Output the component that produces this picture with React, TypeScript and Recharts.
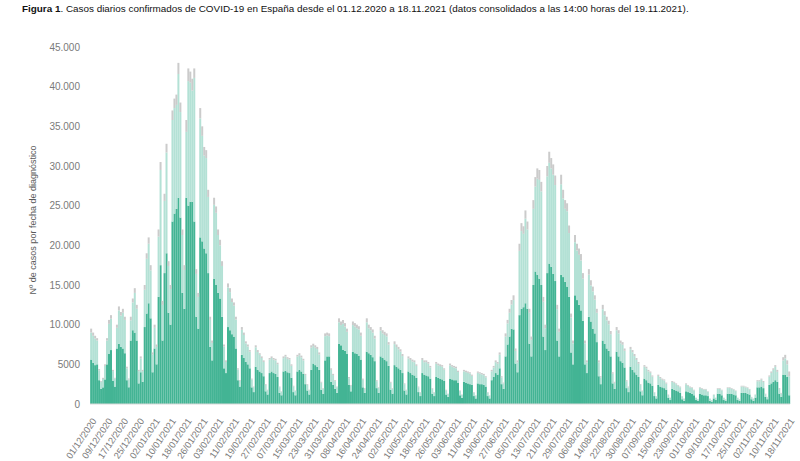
import React from 'react';
import { BarChart, Bar, XAxis, YAxis } from 'recharts';

// Daily totals (top of each stacked bar), 01/12/2020 .. 18/11/2021, weeks Tue..Mon
const totalCases: number[] = [
  9500, 9000, 8600, 8300, 4400, 2900, 3300,
  5000, 8300, 10600, 11200, 4300, 3300, 10000,
  12300, 11600, 12000, 11000, 4700, 3200, 11000,
  13300, 14600, 12500, 4300, 6000, 4300, 15000,
  19000, 21000, 17500, 6500, 10000, 7500, 22000,
  30500, 13000, 26500, 32800, 18000, 15000, 37000,
  38500, 39000, 43000, 38000, 22000, 17500, 35800,
  42300, 41900, 41000, 42300, 17000, 14000, 37300,
  35000, 32400, 32000, 27000, 11000, 8000, 26000,
  24900, 22000, 20700, 18000, 7500, 5500, 15200,
  14600, 13300, 12800, 11000, 4500, 3000, 9700,
  9000, 7900, 7500, 6800, 3200, 2200, 7400,
  6800, 6400, 6000, 5500, 2500, 1800, 5800,
  6000, 5800, 5700, 5200, 2200, 1600, 6000,
  6200, 5900, 5800, 5000, 2300, 1700, 6200,
  6400, 6100, 5700, 3800, 2500, 1800, 7400,
  7600, 7400, 7200, 6500, 2800, 2000, 8900,
  9000, 8900, 4500, 3800, 3000, 2200, 10800,
  10400, 10600, 10200, 9500, 3400, 2400, 10400,
  10200, 10000, 9800, 9000, 3200, 2000, 10800,
  10000, 9700, 9400, 8600, 3000, 2100, 9700,
  9300, 9100, 8900, 7800, 2800, 2000, 7900,
  7500, 7200, 6900, 6300, 2600, 1800, 6000,
  5800, 5600, 5500, 5000, 2200, 1500, 5800,
  5500, 5500, 5300, 4800, 2000, 1500, 5300,
  5100, 5000, 4900, 4500, 1800, 1300, 5100,
  4900, 4800, 4700, 4200, 1700, 1200, 4300,
  4200, 4100, 4000, 3700, 1500, 1100, 4100,
  4000, 3900, 3800, 3500, 1500, 1100, 4300,
  4800, 5500, 5300, 6500, 3500, 2700, 8900,
  10600, 12000, 13100, 13700, 7000, 5500, 20200,
  22800, 22400, 24400, 23000, 12000, 8500, 25700,
  28600, 29700, 29500, 28000, 13500, 10000, 30000,
  31800, 31000, 30200, 28800, 12500, 9500, 28900,
  27000, 25700, 25300, 22500, 11400, 8000, 21300,
  20200, 19600, 18900, 16500, 8000, 5500, 17000,
  15600, 14800, 13700, 12000, 5500, 3500, 12500,
  11700, 11000, 10500, 9200, 4000, 2800, 9700,
  9300, 8000, 7800, 7000, 3000, 2200, 7200,
  6800, 6300, 5800, 5300, 2500, 1700, 4900,
  4700, 4300, 4100, 3600, 1500, 1000, 3700,
  3400, 3200, 3100, 2700, 1200, 800, 2900,
  2800, 2600, 2400, 2200, 1000, 700, 2600,
  2400, 2200, 2100, 1800, 800, 600, 2100,
  2000, 1900, 1900, 1600, 700, 500, 1200,
  800, 2000, 2000, 1800, 800, 600, 2100,
  2100, 2000, 1900, 1700, 800, 600, 2300,
  2300, 2200, 2100, 1900, 900, 700, 1200,
  3000, 3000, 3200, 2900, 1300, 900, 3600,
  4100, 4500, 4900, 4300, 2000, 1400, 5900,
  6200, 5500, 4100,
];

// Dark green segment (bottom)
const darkCases: number[] = [
  5600, 5200, 4900, 5000, 3000, 1900, 2100,
  3100, 5000, 6300, 6800, 2900, 2200, 7000,
  7600, 7200, 7000, 6400, 3000, 2100, 8000,
  9300, 9000, 8000, 2600, 4000, 2800, 9700,
  11400, 12700, 10800, 4000, 7000, 5000, 13500,
  17500, 8000, 16500, 19000, 11500, 10000, 23000,
  24000, 24600, 26000, 23500, 14000, 12000, 26000,
  25000, 25500, 25500, 23000, 11000, 9500, 21000,
  20500, 19600, 19000, 16500, 7200, 5500, 15800,
  15000, 14000, 13300, 11000, 4500, 3900, 9700,
  9300, 8800, 8500, 7000, 3000, 2200, 6200,
  5800, 5300, 5000, 4500, 2100, 1500, 4700,
  4300, 4100, 3900, 3500, 1600, 1200, 3900,
  4100, 3900, 3800, 3400, 1400, 1100, 4100,
  4200, 4000, 3900, 3300, 1500, 1100, 4100,
  4300, 4100, 3800, 2500, 1700, 1200, 4300,
  5100, 4900, 4700, 4300, 1800, 1300, 5500,
  6000, 6000, 2800, 2400, 1900, 1400, 7600,
  7400, 6800, 6700, 6300, 2400, 1600, 6600,
  6400, 6300, 6100, 5600, 2100, 1400, 6600,
  6400, 6200, 5900, 5400, 2000, 1400, 6000,
  5800, 5600, 5400, 4800, 1800, 1300, 4900,
  4700, 4500, 4300, 3900, 1700, 1200, 4100,
  3900, 3700, 3600, 3300, 1500, 1000, 3900,
  3700, 3600, 3500, 3200, 1300, 1000, 3400,
  3300, 3200, 3100, 2900, 1200, 900, 3200,
  3100, 3000, 3000, 2700, 1100, 800, 2800,
  2700, 2600, 2500, 2400, 1000, 700, 2600,
  2500, 2500, 2400, 2200, 1000, 700, 3000,
  3400, 3900, 3700, 4500, 2500, 1900, 6000,
  7500, 8500, 9500, 9400, 5100, 4000, 11200,
  12000, 12200, 12700, 12000, 7600, 6000, 15000,
  16700, 16300, 15800, 15000, 8500, 6800, 16500,
  17700, 17300, 16400, 15500, 8000, 6000, 16300,
  16000, 15400, 14800, 13500, 6500, 5000, 13700,
  13100, 12500, 11800, 10500, 5000, 3900, 11000,
  10400, 9500, 8900, 7800, 3500, 2500, 8000,
  7600, 7000, 6700, 6000, 2600, 1900, 6600,
  6000, 5400, 5200, 4600, 2000, 1500, 4700,
  4300, 4000, 3700, 3400, 1600, 1100, 3200,
  3000, 2700, 2600, 2300, 1000, 700, 2400,
  2200, 2100, 2000, 1800, 800, 500, 1900,
  1800, 1700, 1600, 1400, 600, 400, 1600,
  1500, 1400, 1300, 1100, 500, 400, 1300,
  1200, 1100, 1100, 1000, 400, 300, 700,
  500, 1300, 1300, 1100, 500, 400, 1300,
  1300, 1300, 1200, 1100, 500, 400, 1400,
  1400, 1400, 1300, 1200, 600, 400, 800,
  2100, 2100, 2200, 2000, 900, 600, 2400,
  2600, 2800, 3000, 2800, 1300, 900, 3700,
  3700, 3400, 1100,
];

// Grey segment (top)
const greyCases: number[] = [
  500, 400, 350, 300, 150, 100, 150,
  200, 300, 500, 450, 150, 100, 400,
  500, 450, 500, 400, 200, 100, 450,
  500, 600, 500, 150, 250, 150, 600,
  700, 800, 650, 250, 400, 300, 900,
  1000, 500, 900, 1100, 600, 500, 1200,
  1200, 1300, 1400, 1200, 700, 600, 1500,
  1600, 1400, 1500, 1200, 600, 500, 1300,
  1200, 1100, 1000, 900, 400, 300, 900,
  800, 700, 700, 600, 250, 200, 500,
  500, 450, 400, 350, 150, 100, 350,
  300, 250, 250, 200, 100, 80, 250,
  250, 200, 200, 200, 100, 60, 200,
  200, 200, 200, 180, 80, 60, 220,
  220, 200, 200, 180, 80, 60, 220,
  250, 220, 200, 150, 100, 60, 300,
  300, 300, 280, 250, 100, 80, 350,
  350, 350, 200, 150, 120, 80, 500,
  450, 500, 450, 400, 150, 100, 450,
  450, 450, 400, 400, 150, 100, 500,
  450, 400, 400, 350, 120, 80, 450,
  400, 400, 380, 320, 120, 80, 350,
  320, 300, 300, 260, 100, 70, 250,
  250, 240, 230, 200, 90, 60, 250,
  230, 230, 220, 200, 80, 60, 230,
  220, 210, 200, 180, 70, 50, 220,
  200, 200, 200, 170, 70, 50, 180,
  180, 170, 170, 150, 60, 40, 170,
  170, 160, 160, 140, 60, 40, 180,
  200, 230, 220, 280, 150, 100, 400,
  450, 500, 550, 600, 300, 250, 900,
  1000, 950, 1050, 1000, 500, 400, 1100,
  1200, 1300, 1250, 1200, 600, 450, 1300,
  1400, 1300, 1300, 1200, 550, 400, 1200,
  1100, 1100, 1000, 950, 500, 350, 900,
  850, 800, 800, 700, 350, 250, 700,
  650, 600, 550, 500, 250, 150, 550,
  500, 450, 450, 400, 180, 120, 400,
  400, 350, 330, 300, 130, 100, 300,
  280, 260, 250, 230, 100, 70, 200,
  200, 180, 170, 150, 60, 40, 160,
  150, 140, 130, 120, 50, 30, 120,
  120, 110, 100, 100, 40, 30, 110,
  100, 100, 90, 80, 35, 25, 90,
  90, 80, 80, 70, 30, 20, 50,
  35, 90, 90, 80, 35, 25, 90,
  90, 90, 80, 75, 35, 25, 100,
  100, 100, 90, 80, 40, 30, 50,
  130, 130, 140, 130, 60, 40, 160,
  180, 200, 220, 250, 120, 100, 400,
  450, 500, 600,
];

const xTickLabels: string[] = [
  '01/12/2020', '09/12/2020', '17/12/2020', '25/12/2020', '02/01/2021', '10/01/2021',
  '18/01/2021', '26/01/2021', '03/02/2021', '11/02/2021', '19/02/2021', '27/02/2021',
  '07/03/2021', '15/03/2021', '23/03/2021', '31/03/2021', '08/04/2021', '16/04/2021',
  '24/04/2021', '02/05/2021', '10/05/2021', '18/05/2021', '26/05/2021', '03/06/2021',
  '11/06/2021', '19/06/2021', '27/06/2021', '05/07/2021', '13/07/2021', '21/07/2021',
  '29/07/2021', '06/08/2021', '14/08/2021', '22/08/2021', '30/08/2021', '07/09/2021',
  '15/09/2021', '23/09/2021', '01/10/2021', '09/10/2021', '17/10/2021', '25/10/2021',
  '02/11/2021', '10/11/2021', '18/11/2021',
];

const yTicks: number[] = [0, 5000, 10000, 15000, 20000, 25000, 30000, 35000, 40000, 45000];
const yTickLabels: string[] = ['0', '5000', '10.000', '15.000', '20.000', '25.000', '30.000', '35.000', '40.000', '45.000'];

const pad = (n: number) => (n < 10 ? '0' + n : '' + n);
const dayLabels: string[] = totalCases.map((_, i) => {
  const d = new Date(Date.UTC(2020, 11, 1 + i));
  return `${pad(d.getUTCDate())}/${pad(d.getUTCMonth() + 1)}/${d.getUTCFullYear()}`;
});

const data = dayLabels.map((date, i) => ({
  date,
  dark: darkCases[i],
  light: totalCases[i] - darkCases[i] - greyCases[i],
  grey: greyCases[i],
}));

const FONT = '"Liberation Sans", Arial, sans-serif';

const XTick = (props: any) => {
  const { x, y, payload } = props;
  const ax = x + 6;
  const ay = y + 9;
  return (
    <text
      x={ax}
      y={ay}
      transform={`rotate(-56 ${ax} ${ay})`}
      textAnchor="end"
      fontSize={9.3}
      fontFamily={FONT}
      fill="#7a7a7a"
    >
      {payload.value}
    </text>
  );
};

const YLabel = () => (
  <text
    x={33}
    y={220}
    transform="rotate(-90 33 220)"
    textAnchor="middle"
    dominantBaseline="central"
    fontSize={9}
    fontFamily={FONT}
    fill="#595959"
  >
    Nº de casos por fecha de diagnóstico
  </text>
);

export default function App() {
  return (
    <div style={{ position: 'absolute', left: 0, top: 0, width: 800, height: 461, background: '#fff' }}>
      <div
        style={{
          position: 'absolute',
          left: 22,
          top: 2,
          fontFamily: FONT,
          fontSize: 9.9,
          lineHeight: '14px',
          color: '#111',
          whiteSpace: 'nowrap',
        }}
      >
        <b>Figura 1</b>. Casos diarios confirmados de COVID-19 en España desde el 01.12.2020 a 18.11.2021 (datos consolidados a las 14:00 horas del 19.11.2021).
      </div>
      <div style={{ position: 'absolute', left: 0, top: 0 }}>
        <BarChart
          width={800}
          height={461}
          data={data}
          margin={{ top: 47, right: 10, bottom: 0, left: 30 }}
          barCategoryGap="8%"
        >
          <XAxis
            dataKey="date"
            ticks={xTickLabels}
            interval={0}
            tickLine={false}
            axisLine={{ stroke: '#d9d9d9' }}
            height={57}
            tick={<XTick />}
          />
          <YAxis
            width={60}
            domain={[0, 45000]}
            ticks={yTicks}
            interval={0}
            axisLine={false}
            tickLine={false}
            tickMargin={4}
            tickFormatter={(v: number) => yTickLabels[yTicks.indexOf(v)]}
            tick={{ fontSize: 10, fontFamily: FONT, fill: '#7a7a7a' }}
            label={<YLabel />}
          />
          <Bar dataKey="dark" stackId="a" fill="#43b494" isAnimationActive={false} />
          <Bar dataKey="light" stackId="a" fill="#b3e1d5" isAnimationActive={false} />
          <Bar dataKey="grey" stackId="a" fill="#cbcbcb" isAnimationActive={false} />
        </BarChart>
      </div>
    </div>
  );
}
